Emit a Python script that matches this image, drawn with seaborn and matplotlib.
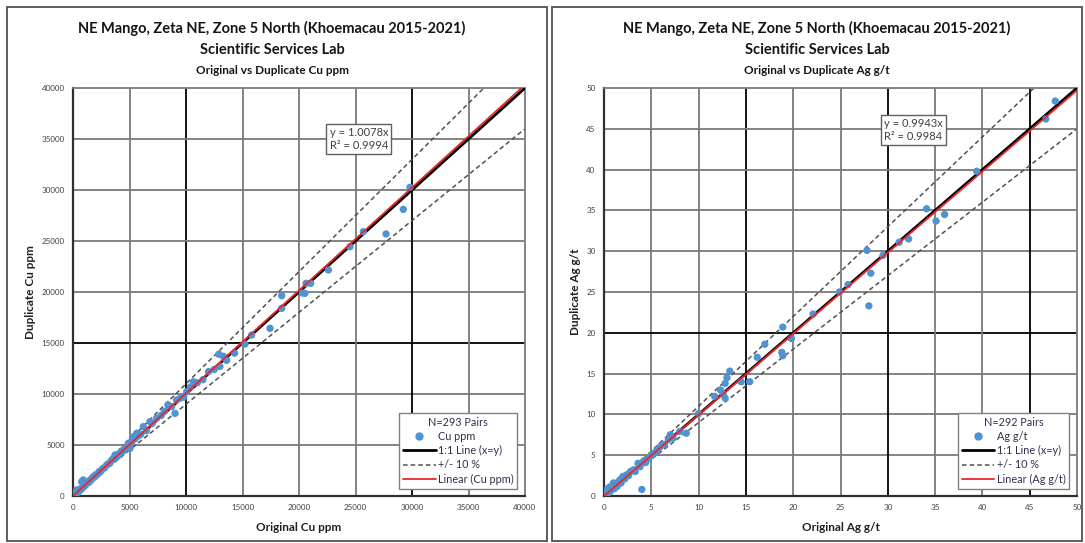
import matplotlib
matplotlib.use("Agg")
import matplotlib.pyplot as plt
from matplotlib.patches import Rectangle
from matplotlib.lines import Line2D
import seaborn as sns
import pandas as pd
import numpy as np

# ---------------- data ----------------
cu_orig = [20, 50, 80, 120, 150, 200, 250, 300, 330, 380, 420, 480, 520, 600, 650, 700, 770, 800, 910, 950,
           1000, 1100, 1210, 1300, 1400, 1500, 1600, 1700, 1800, 1900, 2000, 2150, 2300, 2400, 2540, 2650, 2800,
           2980, 3100, 3250, 3400, 3570, 3720, 3850, 4000, 4150, 4300, 4500, 4650, 4900, 5040, 5200, 5340, 5500,
           5640, 5800, 6000, 6230, 6500, 6810, 7000, 7400, 7800, 8100, 8400, 8730, 9030, 9170, 9500, 9800, 10060,
           10400, 10650, 11000, 11500, 12000, 12500, 12900, 13300, 13000, 13600, 14300, 15220, 15810, 17430,
           18470, 18470, 20300, 20530, 20620, 21030, 22600, 24510, 25690, 27700, 29230, 29820]
cu_dup = [30, 80, 40, 150, 120, 260, 210, 350, 590, 300, 470, 420, 600, 560, 700, 640, 1400, 760, 1570, 900,
          1080, 1050, 1240, 1350, 1330, 1560, 1550, 1760, 1890, 1850, 2080, 2100, 2380, 2350, 2550, 2720, 2760,
          3040, 3150, 3200, 3480, 3690, 4020, 3800, 4100, 4050, 4420, 4450, 4700, 5170, 4670, 5300, 5810, 5600,
          6150, 5900, 6050, 6800, 6400, 7290, 7100, 7620, 7900, 8300, 8920, 8760, 8100, 9410, 9600, 9700, 10230,
          10700, 11200, 11100, 11400, 12200, 12400, 13900, 13700, 12700, 13300, 14000, 14900, 15780, 16440,
          18400, 19640, 19900, 19870, 20850, 20850, 22160, 24440, 25910, 25690, 28100, 30260]

ag_orig = [0.05, 0.1, 0.2, 0.3, 0.35, 0.4, 0.5, 0.6, 0.7, 0.8, 0.9, 1.0, 1.1, 1.2, 1.4, 1.5, 1.7, 1.8, 2.0, 2.2,
           2.4, 2.6, 2.8, 3.1, 3.3, 3.6, 3.8, 4.0, 4.2, 4.4, 4.7, 5.0, 5.2, 5.5, 5.7, 6.0, 6.4, 6.8, 7.0, 7.3,
           8.0, 8.7, 10.0, 11.7, 12.3, 12.6, 12.8, 12.8, 13.0, 13.3, 14.5, 15.4, 16.2, 17.0, 18.8, 18.9, 18.9,
           19.8, 22.1, 24.9, 25.8, 27.8, 28.0, 28.2, 29.5, 31.2, 32.2, 34.1, 35.1, 36.0, 39.4, 46.7, 47.7]
ag_dup = [0.1, 0.3, 0.15, 0.5, 0.25, 0.9, 0.6, 1.1, 0.6, 0.9, 1.2, 1.6, 0.9, 1.3, 1.2, 1.7, 2.0, 1.6, 2.4, 2.1,
          2.6, 2.5, 3.0, 3.2, 3.0, 4.0, 3.6, 0.8, 4.3, 4.1, 4.6, 5.0, 5.2, 5.4, 5.8, 6.1, 6.3, 6.9, 7.5, 7.1,
          7.9, 7.7, 10.1, 12.2, 13.0, 12.5, 12.0, 13.8, 14.5, 15.3, 14.0, 14.0, 17.0, 18.6, 17.6, 17.2, 20.7,
          19.3, 22.3, 25.0, 25.9, 30.1, 23.3, 27.3, 29.5, 31.1, 31.5, 35.2, 33.7, 34.5, 39.8, 46.2, 48.4]

cu_slope, cu_r2, cu_n = 1.0078, 0.9994, 293
ag_slope, ag_r2, ag_n = 0.9943, 0.9984, 292

cu_ticks = [0, 5000, 10000, 15000, 20000, 25000, 30000, 35000, 40000]
ag_ticks = [0, 5, 10, 15, 20, 25, 30, 35, 40, 45, 50]

# ---------------- style ----------------
sns.set_style("white")
plt.rcParams['font.family'] = ['Lato', 'DejaVu Sans']

W, H = 1085, 543
fig = plt.figure(figsize=(W / 100, H / 100), dpi=100)

# panel frames
for (x0, x1) in [(7, 547), (552, 1082)]:
    fig.patches.append(Rectangle((x0 / W, 1 - 541 / H), (x1 - x0) / W, (541 - 7) / H,
                                 transform=fig.transFigure, fill=False, edgecolor='#505050', lw=1.3))

BLUE = '#4f93d2'
TXT = '#404040'


def panel(rect, xo, yd, slope, r2, n, ticks, name, unit, black_v, black_h, eq_pos, title_x):
    ax = fig.add_axes(rect)
    lim = ticks[-1]
    ax.set_xlim(0, lim)
    ax.set_ylim(0, lim)
    ax.set_xticks(ticks)
    ax.set_yticks(ticks)
    for t in ticks[1:-1]:
        ax.axvline(t, color='black' if t in black_v else '#7a7a7a', lw=1.3, zorder=0)
        ax.axhline(t, color='black' if t in black_h else '#7a7a7a', lw=1.3, zorder=0)
    for side in ['top', 'right']:
        ax.spines[side].set_color('#7a7a7a')
        ax.spines[side].set_linewidth(1.3)
    for side in ['left', 'bottom']:
        ax.spines[side].set_color('#303030')
        ax.spines[side].set_linewidth(1.6)
    ax.tick_params(axis='both', labelsize=5.8, labelcolor=TXT, length=3, width=0.8, color='#404040', pad=3)

    xs = np.array([0, lim])
    ax.plot(xs, 1.1 * xs, color='#505050', lw=1.1, ls=(0, (3, 2)), zorder=2)
    ax.plot(xs, 0.9 * xs, color='#505050', lw=1.1, ls=(0, (3, 2)), zorder=2)
    ax.plot(xs, xs, color='black', lw=2.0, zorder=3)
    df = pd.DataFrame({'x': xo, 'y': yd})
    sns.scatterplot(data=df, x='x', y='y', ax=ax, color=BLUE, s=28, edgecolor='none', zorder=4, legend=False)
    ax.plot(xs, slope * xs, color='#e8262b', lw=1.3, zorder=5)

    ax.set_xlabel(f'Original {name} {unit}', fontsize=8.5, fontweight='bold', color='#202020', labelpad=8)
    ax.set_ylabel(f'Duplicate {name} {unit}', fontsize=8.5, fontweight='bold', color='#202020', labelpad=4)

    ax.text(eq_pos[0], eq_pos[1], f'y = {slope:.4f}x\nR² = {r2:.4f}', fontsize=8, color=TXT,
            ha='center', va='center', zorder=6, linespacing=1.25,
            bbox=dict(boxstyle='square,pad=0.3', fc='white', ec='#606060', lw=1.0))

    handles = [Line2D([], [], ls='none', marker='o', color=BLUE, markersize=5),
               Line2D([], [], color='black', lw=2.0),
               Line2D([], [], color='#505050', lw=1.1, ls=(0, (3, 2))),
               Line2D([], [], color='#e8262b', lw=1.3)]
    labels = [f'{name} {unit}', '1:1 Line (x=y)', '+/- 10 %', f'Linear ({name} {unit})']
    leg = ax.legend(handles, labels, title=f'N={n} Pairs', loc='lower right', bbox_to_anchor=(0.995, 0.005),
                    fontsize=7.8, title_fontsize=7.8, frameon=True, fancybox=False, edgecolor='#808080',
                    handlelength=3.0, handletextpad=0.2, labelspacing=0.3, borderpad=0.35, framealpha=1)
    leg.get_frame().set_linewidth(1.0)
    for t in leg.get_texts():
        t.set_color('#303050')
    leg.get_title().set_color('#303050')
    leg.set_zorder(10)

    fig.text(title_x, 1 - 28 / H, 'NE Mango, Zeta NE, Zone 5 North (Khoemacau 2015-2021)', ha='center',
             va='center', fontsize=10.5, fontweight='bold', color='#151515')
    fig.text(title_x, 1 - 50 / H, 'Scientific Services Lab', ha='center', va='center',
             fontsize=10.5, fontweight='bold', color='#151515')
    fig.text(title_x, 1 - 70 / H, f'Original vs Duplicate {name} {unit}', ha='center', va='center',
             fontsize=8.5, fontweight='bold', color='#151515')
    return ax


y0 = 1 - 496 / H
h = (496 - 88) / H
panel([73 / W, y0, (525 - 73) / W, h], cu_orig, cu_dup, cu_slope, cu_r2, cu_n, cu_ticks, 'Cu', 'ppm',
      [10000, 30000], [15000], (25300, 35000), 272 / W)
panel([604 / W, y0, (1077 - 604) / W, h], ag_orig, ag_dup, ag_slope, ag_r2, ag_n, ag_ticks, 'Ag', 'g/t',
      [15, 30, 45], [20], (32.7, 44.85), 817 / W)

fig.savefig('out.png', dpi=100)
